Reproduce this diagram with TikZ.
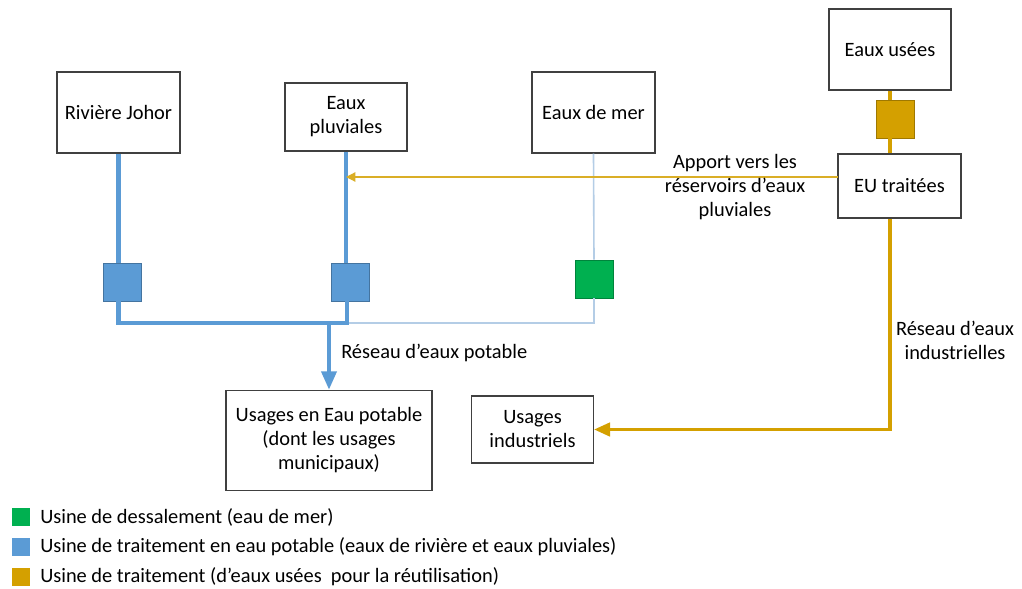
\documentclass[tikz,border=0pt]{standalone}
\usepackage{fontspec}
\setmainfont{Carlito}
\usetikzlibrary{arrows.meta}
\definecolor{pblue}{HTML}{5B9BD5}
\definecolor{lblue}{HTML}{B4CDE6}
\definecolor{pgreen}{HTML}{00B050}
\definecolor{pgold}{HTML}{D4A000}
\definecolor{bordergray}{HTML}{404040}
\begin{document}
\begin{tikzpicture}[x=0.75pt,y=-0.75pt,
  txt/.style={align=center, inner sep=0pt, font=\fontsize{15.3}{18}\selectfont},
  box/.style={txt, draw=bordergray, line width=0.8pt, fill=white},
  plant/.style={minimum width=28.5pt, minimum height=28.5pt, inner sep=0pt, draw=#1!75!black, line width=0.6pt, fill=#1},
  legsq/.style={minimum width=13.5pt, minimum height=14pt, inner sep=0pt, fill=#1},
  pipe/.style={draw=pblue, line width=3.4pt, line join=miter},
  seapipe/.style={draw=lblue, line width=1.2pt},
  goldpipe/.style={draw=pgold, line width=2.6pt, line join=miter},
  apport/.style={draw=pgold!85!white, line width=0.9pt}
]
\useasboundingbox[fill=white] (0,0) rectangle (1022,589);

% boxes
\node[box, minimum width=92.25pt, minimum height=60.75pt] (riv) at (118.5,112.5) {Rivière Johor};
\node[box, minimum width=91.5pt, minimum height=51pt] (pluv) at (346,117) {Eaux\\pluviales};
\node[box, minimum width=92.25pt, minimum height=60.75pt] (mer) at (593.5,112.5) {Eaux de mer};
\node[box, minimum width=91.5pt, minimum height=60.75pt] (usees) at (890,49.5) {Eaux usées};
\node[box, minimum width=92.25pt, minimum height=48pt] (eut) at (899.5,186) {EU traitées};
\node[box, minimum width=154.5pt, minimum height=75pt] (potable) at (329,440.5) {Usages en Eau potable\\(dont les usages\\municipaux)};
\node[box, minimum width=91.5pt, minimum height=50.25pt] (indus) at (532.5,429.5) {Usages\\industriels};

% plants
\node[plant=pblue] (bsq1) at (122,282) {};
\node[plant=pblue] (bsq2) at (350,282) {};
\node[plant=pgreen] (gsq) at (594,279) {};
\node[plant=pgold] (osq) at (895,119) {};

% junctions
\coordinate (jr) at (347,323);
\coordinate (jd) at (329,321);
\coordinate (ap) at (838,177);

% sea water line
\draw[seapipe] (mer.south) -- (gsq.north);
\draw[seapipe] (gsq.south) |- (jr);

% blue pipes
\draw[pipe] (riv.south) -- (riv.south |- bsq1.north);
\draw[pipe] (pluv.south) -- (pluv.south |- bsq2.north);
\draw[pipe] (bsq1.south -| riv.south) |- (jr) -- (jr |- bsq2.south);
\draw[pipe, -{Triangle[width=11pt,length=14pt]}] (jd) -- (potable.north);

% gold pipes
\draw[goldpipe] (usees.south) -- (usees.south |- osq.north);
\draw[goldpipe] (osq.south -| usees.south) -- (eut.north -| usees.south);
\draw[goldpipe, -{Triangle[width=10pt,length=12pt]}] (eut.south -| usees.south) |- (indus.east);

% apport arrow
\draw[apport, -{Triangle[width=7pt,length=7pt]}] (ap) -- (ap -| pluv.south);

% labels
\node[txt] (lapport) at (735,187) {Apport vers les\\réservoirs d’eaux\\pluviales};
\node[txt] (lind) at (955,340) {Réseau d’eaux\\industrielles};
\node[txt, anchor=west] (lpot) at (341,353) {Réseau d’eaux potable};

% legend
\node[legsq=pgreen] (lg1) at (21,517) {};
\node[legsq=pblue] (lg2) at (21,547) {};
\node[legsq=pgold] (lg3) at (21,577) {};
\node[txt, anchor=west] (lt1) at (40,517) {Usine de dessalement (eau de mer)};
\node[txt, anchor=west] (lt2) at (40,547) {Usine de traitement en eau potable (eaux de rivière et eaux pluviales)};
\node[txt, anchor=west] (lt3) at (40,577) {Usine de traitement (d’eaux usées\ \ pour la réutilisation)};
\end{tikzpicture}
\end{document}
